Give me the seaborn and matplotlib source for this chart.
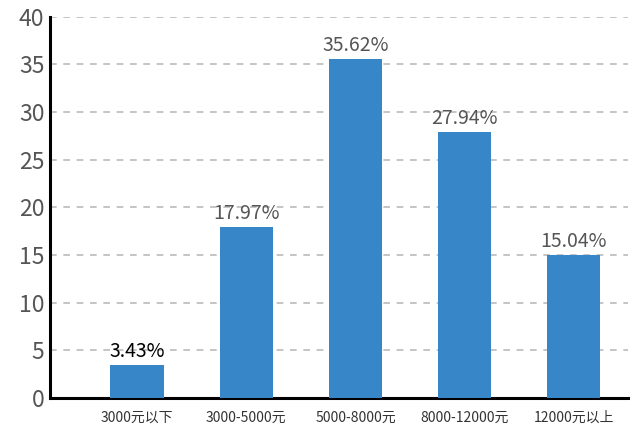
import matplotlib
matplotlib.use("Agg")
import matplotlib.pyplot as plt
import seaborn as sns
import pandas as pd

categories = ['3000元以下', '3000-5000元', '5000-8000元', '8000-12000元', '12000元以上']
values = [3.43, 17.97, 35.62, 27.94, 15.04]
labels = ['3.43%', '17.97%', '35.62%', '27.94%', '15.04%']
label_colors = ['#000000', '#555555', '#555555', '#555555', '#555555']

sns.set_style("white")
plt.rcParams['font.family'] = ['Noto Sans CJK SC', 'DejaVu Sans']

df = pd.DataFrame({'range': categories, 'pct': values})

fig = plt.figure(figsize=(6.32, 4.32), dpi=100)
ax = fig.add_axes([0.079, 0.079, 0.915, 0.882])

sns.barplot(data=df, x='range', y='pct', color='#3686c8', saturation=1,
            width=0.49, ax=ax, zorder=3, linewidth=0)

# etiquetas em cima das barras
for i, (v, t) in enumerate(zip(values, labels)):
    ax.annotate(t, (i, v), xytext=(0, 2), textcoords='offset points',
                ha='center', va='bottom', fontsize=14, color=label_colors[i])

ax.set_ylim(0, 40)
ax.set_xlim(-0.8, 4.5)
ax.set_yticks(range(0, 41, 5))
ax.yaxis.grid(True, linestyle=(0, (4, 4)), color='#bbbbbb', linewidth=1.2, zorder=0)
ax.set_xlabel('')
ax.set_ylabel('')

for s in ['top', 'right']:
    ax.spines[s].set_visible(False)
ax.spines['left'].set_linewidth(2.2)
ax.spines['left'].set_color('black')
ax.spines['bottom'].set_linewidth(2.2)
ax.spines['bottom'].set_color('black')

ax.tick_params(axis='y', direction='in', length=9, width=2.2, color='black',
               labelsize=16.5, labelcolor='#555555', pad=4)
ax.tick_params(axis='x', length=0, labelsize=10, labelcolor='#333333', pad=9)

fig.savefig('out.png', dpi=100)
